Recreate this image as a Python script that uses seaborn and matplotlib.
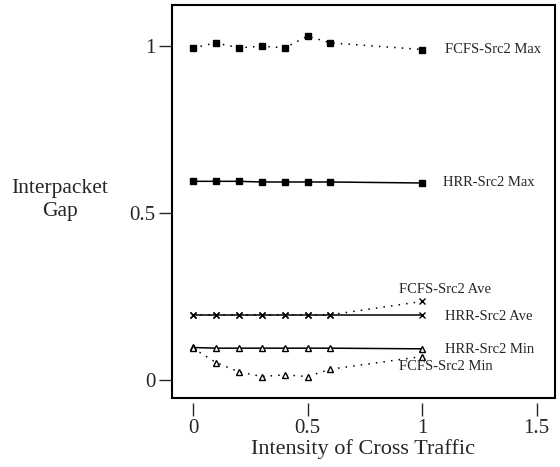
import numpy as np
import pandas as pd
import seaborn as sns
import matplotlib.pyplot as plt

# intensity of cross traffic
x_vals = [0.0, 0.1, 0.2, 0.3, 0.4, 0.5, 0.6, 1.0]

fcfs_max = [0.995, 1.01, 0.995, 1.0, 0.995, 1.03, 1.01, 0.99]
hrr_max = [0.595, 0.595, 0.595, 0.593, 0.593, 0.593, 0.593, 0.59]
fcfs_ave = [0.195, 0.195, 0.195, 0.195, 0.195, 0.195, 0.195, 0.235]
hrr_ave = [0.195, 0.195, 0.195, 0.195, 0.195, 0.195, 0.195, 0.195]
hrr_min = [0.097, 0.095, 0.095, 0.095, 0.095, 0.095, 0.095, 0.093]
fcfs_min = [0.095, 0.052, 0.024, 0.01, 0.015, 0.01, 0.032, 0.07]

x_ticks = [0, 0.5, 1, 1.5]
x_tick_labels = ["0", "0.5", "1", "1.5"]
y_ticks = [0, 0.5, 1]
y_tick_labels = ["0", "0.5", "1"]

dotted = (0, (1, 4))
series = [
    ("FCFS-Src2 Max", fcfs_max, "s", dotted, (1.10, 0.99)),
    ("HRR-Src2 Max", hrr_max, "s", "-", (1.09, 0.59)),
    ("FCFS-Src2 Ave", fcfs_ave, "x", dotted, (0.90, 0.27)),
    ("HRR-Src2 Ave", hrr_ave, "x", "-", (1.10, 0.19)),
    ("HRR-Src2 Min", hrr_min, "^", "-", (1.10, 0.09)),
    ("FCFS-Src2 Min", fcfs_min, "^", dotted, (0.90, 0.04)),
]

sns.set_style("ticks")
plt.rcParams["font.family"] = ["Liberation Serif", "DejaVu Serif"]

fig = plt.figure(figsize=(5.6, 4.67), dpi=100)
ax = fig.add_axes([0.307, 0.148, 0.684, 0.841])

# detached ticks below / left of the frame (set first: it resets ticks)
ax.spines["left"].set_position(("outward", 1))
ax.spines["bottom"].set_position(("outward", 4))
for side in ["left", "bottom", "top", "right"]:
    ax.spines[side].set_visible(False)
ax.patch.set_edgecolor("black")
ax.patch.set_linewidth(1.5)

for name, vals, mk, ls, (tx, ty) in series:
    df = pd.DataFrame({"x": x_vals, "y": vals})
    face = "white" if mk == "^" else "black"
    sns.lineplot(data=df, x="x", y="y", ax=ax, color="black", linestyle=ls,
                 linewidth=1.1, marker=mk, markersize=5,
                 markerfacecolor=face, markeredgecolor="black",
                 markeredgewidth=1.0, sort=False)
    ax.text(tx, ty, name, fontsize=10.5, ha="left", va="center")

ax.set_xlim(-0.092, 1.58)
ax.set_ylim(-0.054, 1.123)
ax.set_xticks(x_ticks)
ax.set_xticklabels(x_tick_labels)
ax.set_yticks(y_ticks)
ax.set_yticklabels(y_tick_labels)
ax.tick_params(axis="both", direction="out", length=9, width=1.0, pad=2,
               labelsize=15)
ax.set_xlabel("Intensity of Cross Traffic", fontsize=16, labelpad=1)
ax.set_ylabel("")
fig.text(0.107, 0.572, "Interpacket\nGap", fontsize=15.5, ha="center",
         va="center", linespacing=1.3)

fig.savefig("out.png", dpi=100)
